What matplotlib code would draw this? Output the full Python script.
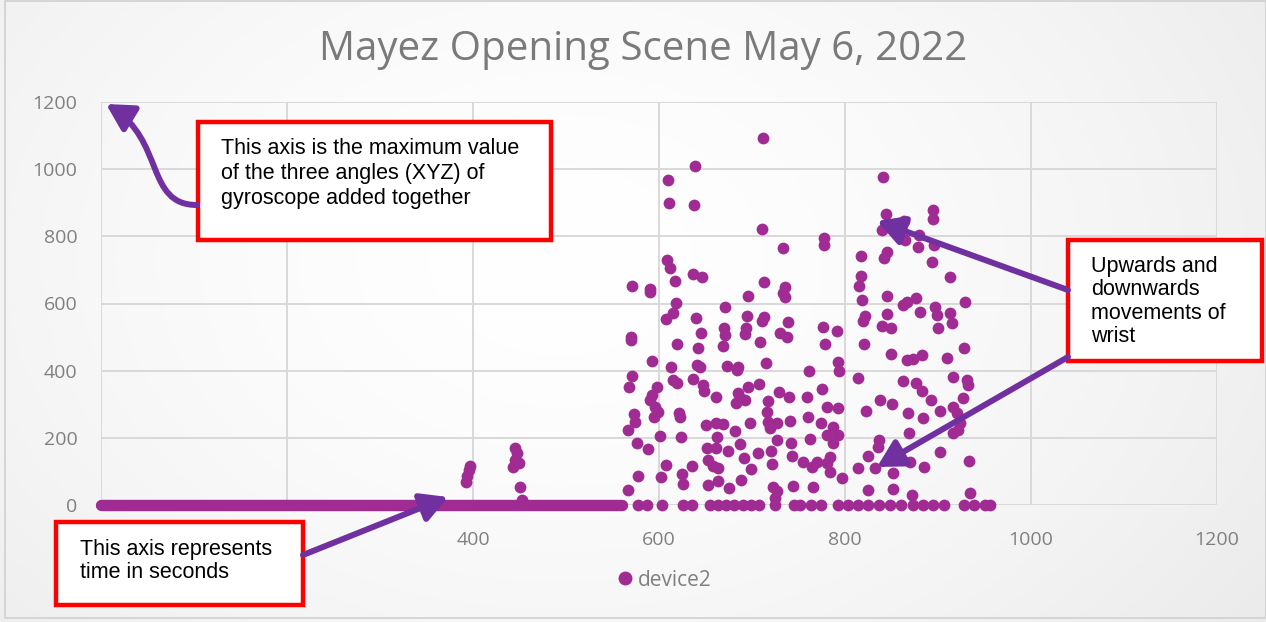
import numpy as np
import matplotlib
matplotlib.use("Agg")
import matplotlib.pyplot as plt
from matplotlib.patches import Rectangle, FancyArrowPatch
from matplotlib.path import Path
from matplotlib.lines import Line2D

# ---------------- data ----------------
title = "Mayez Opening Scene May 6, 2022"
series_name = "device2"

# continuous run of zero readings (start, end) in seconds
zero_runs = [(0, 560)]

# isolated zero readings after the run
zero_times = [577, 587, 603, 626, 635, 655, 663, 672, 681, 690, 699, 708, 725,
              745, 752, 763, 774, 792, 803, 814, 825, 837, 848, 860, 873, 884,
              895, 906, 928, 939, 950, 956]

# non-zero readings: time (s), value
times = [393, 394, 396, 397, 443, 445, 445, 447, 449, 450, 453,
         712, 639, 610, 611, 638, 711, 733, 609, 612, 571, 590, 590, 617, 637,
         646, 713, 696, 735, 733, 735, 671, 618, 615, 608, 640, 645, 670, 671,
         669, 695, 694, 692, 713, 711, 709, 730, 738, 739, 570, 570, 619, 642,
         592, 613, 641, 644, 673, 685, 684, 715, 571, 568, 615, 619, 637, 647,
         648, 661, 598, 592, 590, 596, 599, 595, 685, 687, 683, 692, 696, 708,
         717, 729, 740, 716, 717, 727, 719, 741, 573, 574, 567, 622, 623, 650,
         661, 669, 682, 698, 601, 624, 662, 727, 742, 576, 588, 652, 661, 674,
         687, 691, 706, 720, 722, 743, 653, 658, 663, 636, 608, 699, 625, 626,
         602, 577, 653, 663, 675, 688, 723, 727, 725, 744, 567,
         841, 844, 863, 840, 895, 895, 865, 878, 896, 880, 777, 777, 845, 842,
         894, 817, 913, 817, 815, 818, 822, 819, 845, 845, 862, 867, 876, 881,
         897, 899, 900, 913, 915, 929, 840, 849, 820, 849, 867, 873, 883, 910,
         928, 776, 791, 779, 792, 794, 761, 814, 862, 876, 883, 916, 931, 932,
         775, 838, 850, 893, 823, 868, 884, 902, 916, 920, 927, 924, 916, 922,
         759, 760, 781, 792, 774, 787, 781, 792, 787, 762, 869, 837, 836, 755,
         770, 765, 781, 784, 784, 797, 766, 825, 814, 832, 852, 870, 885, 902,
         933, 825, 852, 872, 934]
values = [68, 85, 105, 117, 113, 134, 170, 155, 125, 54, 15,
          1093, 1010, 968, 900, 893, 822, 765, 730, 706, 652, 643, 633, 667, 688,
          679, 664, 622, 649, 631, 619, 590, 602, 572, 554, 557, 512, 527, 506,
          473, 563, 527, 509, 560, 548, 485, 512, 500, 545, 500, 491, 479, 468,
          429, 411, 417, 411, 414, 411, 402, 423, 384, 351, 372, 363, 375, 357,
          339, 322, 351, 328, 313, 292, 277, 262, 334, 319, 304, 313, 351, 360,
          310, 337, 322, 277, 247, 244, 229, 250, 271, 247, 223, 274, 262, 238,
          244, 241, 220, 244, 205, 202, 202, 194, 185, 185, 167, 170, 170, 161,
          182, 140, 155, 161, 122, 146, 134, 116, 110, 116, 119, 107, 92, 62,
          83, 86, 60, 71, 51, 74, 54, 42, 21, 57, 45,
          977, 867, 846, 819, 878, 852, 789, 768, 774, 805, 795, 774, 753, 735,
          724, 741, 679, 682, 652, 610, 563, 548, 622, 569, 596, 605, 616, 575,
          590, 566, 527, 572, 542, 605, 533, 527, 479, 450, 432, 435, 447, 438,
          468, 530, 518, 479, 426, 399, 399, 378, 369, 363, 339, 381, 372, 357,
          345, 313, 301, 313, 280, 274, 259, 280, 292, 274, 319, 244, 214, 223,
          322, 262, 292, 289, 244, 232, 208, 208, 185, 197, 214, 194, 173, 128,
          128, 113, 125, 143, 98, 80, 54, 146, 110, 110, 95, 128, 113, 158,
          131, 45, 48, 30, 36]

x_ticks = [0, 200, 400, 600, 800, 1000, 1200]
# labels of 0 and 200 are hidden behind the annotation box in the reference
x_tick_labels = ["", "", "400", "600", "800", "1000", "1200"]
y_ticks = [0, 200, 400, 600, 800, 1000, 1200]

notes = {
    "y_axis": "This axis is the maximum value\nof the three angles (XYZ) of\ngyroscope added together",
    "wrist": "Upwards and\ndownwards\nmovements of\nwrist",
    "x_axis": "This axis represents\ntime in seconds",
}

# ---------------- style ----------------
W, H = 1266, 622
DOT = "#A02B93"
ARROW = "#7030A0"
GRID = "#D9D9D9"
TXT = "#808080"

fig = plt.figure(figsize=(W / 100, H / 100), dpi=100)

# subtle radial background
bg = fig.add_axes([0, 0, 1, 1], zorder=-5)
yy, xx = np.mgrid[0:H, 0:W]
r = np.sqrt(((xx - 560) / 900.0) ** 2 + ((yy - 260) / 650.0) ** 2)
shade = 1.0 - 0.085 * np.clip(r, 0, 1.2) ** 1.6
bg.imshow(np.dstack([shade] * 3), extent=[0, W, H, 0], aspect="auto", interpolation="bilinear")
bg.set_xlim(0, W)
bg.set_ylim(H, 0)
bg.axis("off")
bg.add_patch(Rectangle((5, 0.5), W - 5.5, H - 5, fill=False, edgecolor="#D0D0D0", lw=1.2))

ax = fig.add_axes([101 / W, (H - 505) / H, 1116 / W, 403 / H])
ax.patch.set_alpha(0)
ax.set_xlim(0, 1200)
ax.set_ylim(0, 1200)
ax.set_xticks(x_ticks)
ax.set_xticklabels(x_tick_labels)
ax.set_yticks(y_ticks)
ax.grid(True, color=GRID, lw=1.4)
ax.set_axisbelow(True)
for s in ax.spines.values():
    s.set_visible(False)
ax.tick_params(length=0, colors=TXT, labelsize=14)
for lab in ax.get_xticklabels() + ax.get_yticklabels():
    lab.set_fontfamily("Open Sans")
    lab.set_color(TXT)
ax.tick_params(axis="y", pad=17)
ax.tick_params(axis="x", pad=19)

for a, b in zero_runs:
    ax.plot([a, b], [0, 0], color=DOT, lw=8.2, solid_capstyle="round", clip_on=False, zorder=3)
ax.scatter(zero_times, [0] * len(zero_times), s=72, color=DOT, lw=0, clip_on=False, zorder=3)
ax.scatter(times, values, s=72, color=DOT, lw=0, clip_on=False, zorder=3)

fig.text(643 / W, 1 - 50 / H, title, ha="center", va="center", fontsize=29,
         color="#7A7A7A", family="Open Sans")

handle = Line2D([], [], marker="o", ls="", color=DOT, markersize=9)
fig.legend([handle], [series_name], loc="center", bbox_to_anchor=(661 / W, 1 - 580 / H),
           frameon=False, handletextpad=-0.1, handlelength=1.4,
           prop={"family": "Open Sans", "size": 15}, labelcolor=TXT)

# ---------------- annotation overlay (pixel coordinates) ----------------
ov = fig.add_axes([0, 0, 1, 1], zorder=10)
ov.set_xlim(0, W)
ov.set_ylim(H, 0)
ov.axis("off")
ov.patch.set_alpha(0)

def box(x0, y0, x1, y1, text, tx, ty, spacing):
    ov.add_patch(Rectangle((x0, y0), x1 - x0, y1 - y0, facecolor="white",
                           edgecolor="#FF0000", lw=3.2, zorder=5))
    ov.text(tx, ty, text, ha="left", va="top", fontsize=15.5, color="black",
            family="Liberation Sans", linespacing=spacing, zorder=6)

box(198, 122, 551, 240, notes["y_axis"], 221, 138, 1.25)
box(1068, 240, 1262, 361, notes["wrist"], 1091, 256, 1.15)
box(56, 522, 303, 605, notes["x_axis"], 80, 539, 1.15)

def arrow(p0, p1):
    ov.add_patch(FancyArrowPatch(p0, p1, arrowstyle="-|>,head_length=1.0,head_width=0.55",
                                 mutation_scale=16, color=ARROW, lw=4.3, zorder=7,
                                 shrinkA=0, shrinkB=0))

arrow((1068, 290), (877, 221))
arrow((1068, 357), (877, 467))
arrow((303, 555), (448, 497))

curve = Path([(197, 205), (145, 205), (165, 140), (106, 104)],
             [Path.MOVETO, Path.CURVE4, Path.CURVE4, Path.CURVE4])
ov.add_patch(FancyArrowPatch(path=curve, arrowstyle="-|>,head_length=1.0,head_width=0.55",
                             mutation_scale=16, color=ARROW, lw=4.3, zorder=7,
                             transform=ov.transData))

fig.savefig("out.png", dpi=100)
